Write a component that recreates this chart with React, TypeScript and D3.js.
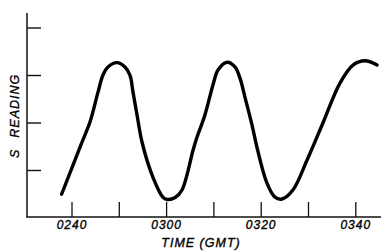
import * as d3 from "d3";

// minutes after 02:00 GMT
const times = [
  37.8, 42.05, 43.8, 45.5, 46.55, 47.6, 49.5, 51.2, 52.25, 52.9, 53.75, 54.8, 57.1, 59.2,
  60.1, 61.8, 63.25, 65.6, 66.35, 68.1, 69.8, 70.9, 72.8, 74.45, 75.5, 76.6, 78.05, 79.1,
  81.2, 82.9, 84.4, 86.7, 89.7, 93.05, 96.65, 99.4, 101.95, 104.5,
];
const readings = [
  0.5, 1.58, 2.02, 2.65, 3.01, 3.18, 3.27, 3.18, 3.01, 2.65, 2.17, 1.6, 0.86, 0.44,
  0.39, 0.43, 0.59, 1.43, 1.68, 2.17, 2.8, 3.12, 3.28, 3.18, 2.95, 2.53, 1.96, 1.49,
  0.74, 0.44, 0.4, 0.59, 1.22, 2.0, 2.84, 3.22, 3.31, 3.22,
];

const xTicks = [40, 50, 60, 70, 80, 90, 100];
const xLabelTicks = [40, 60, 80, 100];
const xLabels = ["0240", "0300", "0320", "0340"];
const yTicks = [1, 2, 3, 4];

const W = 381;
const H = 252;
const axisX = 27;
const axisY = 217;
const axisTop = 13;

const font = "'Liberation Sans', Arial, sans-serif";

const App = () => {
  const x = d3.scaleLinear().domain([40, 100]).range([72, 355.8]);
  const y = d3.scaleLinear().domain([0, 4]).range([218, 28]);

  const pts = times.map((t, i) => [t, readings[i]] as [number, number]);
  const line = d3
    .line<[number, number]>()
    .x((d) => x(d[0]))
    .y((d) => y(d[1]))
    .curve(d3.curveCatmullRom.alpha(0.5));

  const txt = {
    fontFamily: font,
    fontStyle: "italic",
    fill: "#000",
    stroke: "#000",
    strokeWidth: 0.35,
    letterSpacing: 1,
  } as const;

  return (
    <svg
      width={W}
      height={H}
      style={{ position: "absolute", left: 0, top: 0, background: "#fff" }}
    >
      {/* axes */}
      <line x1={axisX} x2={axisX} y1={axisTop} y2={axisY} stroke="#111" strokeWidth={1.5} />
      <line x1={axisX - 0.75} x2={W} y1={axisY} y2={axisY} stroke="#111" strokeWidth={1.5} />

      {yTicks.map((v) => (
        <line key={v} x1={axisX} x2={axisX + 14} y1={y(v)} y2={y(v)} stroke="#111" strokeWidth={1.4} />
      ))}
      {xTicks.map((t) => (
        <line key={t} x1={x(t)} x2={x(t)} y1={axisY} y2={axisY - 15} stroke="#111" strokeWidth={1.3} />
      ))}

      {xLabelTicks.map((t, i) => (
        <text key={t} x={x(t)} y={229} textAnchor="middle" fontSize={12} {...txt}>
          {xLabels[i]}
        </text>
      ))}

      <text x={201} y={247} textAnchor="middle" fontSize={12.5} {...txt}>
        TIME (GMT)
      </text>

      <text transform="translate(19,158) rotate(-90)" fontSize={12.5} {...txt}>
        <tspan>S</tspan>
        <tspan dx={11}>READING</tspan>
      </text>

      <path
        d={line(pts) || ""}
        fill="none"
        stroke="#000"
        strokeWidth={3.4}
        strokeLinecap="round"
        strokeLinejoin="round"
      />
    </svg>
  );
};

export default App;
